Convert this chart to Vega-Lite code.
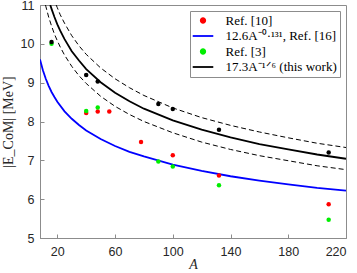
{
  "$schema": "https://vega.github.io/schema/vega-lite/v6.json",
  "width": 306,
  "height": 233,
  "autosize": {"type": "none"},
  "padding": {"left": 40, "top": 5, "right": 11, "bottom": 35},
  "config": {
    "view": {"stroke": "#8c8c8c", "strokeWidth": 1},
    "axis": {
      "grid": false,
      "domainColor": "#8c8c8c",
      "tickColor": "#8c8c8c",
      "labelFont": "Liberation Sans",
      "labelFontSize": 12.5,
      "labelColor": "#262626",
      "titleFont": "Liberation Serif",
      "titleFontWeight": "normal",
      "titleFontSize": 14,
      "titleColor": "#262626"
    }
  },
  "datasets": {
    "pts": [
      {"A": 16, "E": 10.05, "s": "this"},
      {"A": 40, "E": 9.2, "s": "this"},
      {"A": 48, "E": 9.03, "s": "this"},
      {"A": 90, "E": 8.45, "s": "this"},
      {"A": 100, "E": 8.32, "s": "this"},
      {"A": 132, "E": 7.79, "s": "this"},
      {"A": 208, "E": 7.2, "s": "this"},
      {"A": 40, "E": 8.22, "s": "Ref. [10]"},
      {"A": 48, "E": 8.26, "s": "Ref. [10]"},
      {"A": 56, "E": 8.26, "s": "Ref. [10]"},
      {"A": 78, "E": 7.47, "s": "Ref. [10]"},
      {"A": 100, "E": 7.13, "s": "Ref. [10]"},
      {"A": 132, "E": 6.61, "s": "Ref. [10]"},
      {"A": 208, "E": 5.87, "s": "Ref. [10]"},
      {"A": 16, "E": 10.0, "s": "Ref. [3]"},
      {"A": 40, "E": 8.27, "s": "Ref. [3]"},
      {"A": 48, "E": 8.36, "s": "Ref. [3]"},
      {"A": 90, "E": 6.97, "s": "Ref. [3]"},
      {"A": 100, "E": 6.84, "s": "Ref. [3]"},
      {"A": 132, "E": 6.36, "s": "Ref. [3]"},
      {"A": 208, "E": 5.47, "s": "Ref. [3]"}
    ],
    "solid": [
      {"A": 8, "E": 9.6, "s": "12.6A⁻⁰·¹³¹, Ref. [16]"},
      {"A": 10, "E": 9.32, "s": "12.6A⁻⁰·¹³¹, Ref. [16]"},
      {"A": 12, "E": 9.1, "s": "12.6A⁻⁰·¹³¹, Ref. [16]"},
      {"A": 14, "E": 8.92, "s": "12.6A⁻⁰·¹³¹, Ref. [16]"},
      {"A": 16, "E": 8.76, "s": "12.6A⁻⁰·¹³¹, Ref. [16]"},
      {"A": 18, "E": 8.63, "s": "12.6A⁻⁰·¹³¹, Ref. [16]"},
      {"A": 20, "E": 8.51, "s": "12.6A⁻⁰·¹³¹, Ref. [16]"},
      {"A": 25, "E": 8.26, "s": "12.6A⁻⁰·¹³¹, Ref. [16]"},
      {"A": 30, "E": 8.07, "s": "12.6A⁻⁰·¹³¹, Ref. [16]"},
      {"A": 35, "E": 7.91, "s": "12.6A⁻⁰·¹³¹, Ref. [16]"},
      {"A": 40, "E": 7.77, "s": "12.6A⁻⁰·¹³¹, Ref. [16]"},
      {"A": 50, "E": 7.55, "s": "12.6A⁻⁰·¹³¹, Ref. [16]"},
      {"A": 60, "E": 7.37, "s": "12.6A⁻⁰·¹³¹, Ref. [16]"},
      {"A": 70, "E": 7.22, "s": "12.6A⁻⁰·¹³¹, Ref. [16]"},
      {"A": 80, "E": 7.1, "s": "12.6A⁻⁰·¹³¹, Ref. [16]"},
      {"A": 100, "E": 6.89, "s": "12.6A⁻⁰·¹³¹, Ref. [16]"},
      {"A": 120, "E": 6.73, "s": "12.6A⁻⁰·¹³¹, Ref. [16]"},
      {"A": 140, "E": 6.59, "s": "12.6A⁻⁰·¹³¹, Ref. [16]"},
      {"A": 160, "E": 6.48, "s": "12.6A⁻⁰·¹³¹, Ref. [16]"},
      {"A": 180, "E": 6.38, "s": "12.6A⁻⁰·¹³¹, Ref. [16]"},
      {"A": 200, "E": 6.29, "s": "12.6A⁻⁰·¹³¹, Ref. [16]"},
      {"A": 220, "E": 6.22, "s": "12.6A⁻⁰·¹³¹, Ref. [16]"},
      {"A": 15.1, "E": 11.0, "s": "17.3A⁻¹ᐟ⁶ (this work)"},
      {"A": 16, "E": 10.9, "s": "17.3A⁻¹ᐟ⁶ (this work)"},
      {"A": 18, "E": 10.69, "s": "17.3A⁻¹ᐟ⁶ (this work)"},
      {"A": 20, "E": 10.5, "s": "17.3A⁻¹ᐟ⁶ (this work)"},
      {"A": 22, "E": 10.34, "s": "17.3A⁻¹ᐟ⁶ (this work)"},
      {"A": 25, "E": 10.12, "s": "17.3A⁻¹ᐟ⁶ (this work)"},
      {"A": 30, "E": 9.81, "s": "17.3A⁻¹ᐟ⁶ (this work)"},
      {"A": 35, "E": 9.57, "s": "17.3A⁻¹ᐟ⁶ (this work)"},
      {"A": 40, "E": 9.35, "s": "17.3A⁻¹ᐟ⁶ (this work)"},
      {"A": 50, "E": 9.01, "s": "17.3A⁻¹ᐟ⁶ (this work)"},
      {"A": 60, "E": 8.74, "s": "17.3A⁻¹ᐟ⁶ (this work)"},
      {"A": 70, "E": 8.52, "s": "17.3A⁻¹ᐟ⁶ (this work)"},
      {"A": 80, "E": 8.33, "s": "17.3A⁻¹ᐟ⁶ (this work)"},
      {"A": 100, "E": 8.03, "s": "17.3A⁻¹ᐟ⁶ (this work)"},
      {"A": 120, "E": 7.79, "s": "17.3A⁻¹ᐟ⁶ (this work)"},
      {"A": 140, "E": 7.59, "s": "17.3A⁻¹ᐟ⁶ (this work)"},
      {"A": 160, "E": 7.42, "s": "17.3A⁻¹ᐟ⁶ (this work)"},
      {"A": 180, "E": 7.28, "s": "17.3A⁻¹ᐟ⁶ (this work)"},
      {"A": 200, "E": 7.15, "s": "17.3A⁻¹ᐟ⁶ (this work)"},
      {"A": 220, "E": 7.04, "s": "17.3A⁻¹ᐟ⁶ (this work)"}
    ],
    "dashed": [
      {"A": 19.2, "E": 11.0, "s": "up"},
      {"A": 20, "E": 10.93, "s": "up"},
      {"A": 22, "E": 10.75, "s": "up"},
      {"A": 25, "E": 10.53, "s": "up"},
      {"A": 30, "E": 10.21, "s": "up"},
      {"A": 35, "E": 9.95, "s": "up"},
      {"A": 40, "E": 9.73, "s": "up"},
      {"A": 50, "E": 9.38, "s": "up"},
      {"A": 60, "E": 9.1, "s": "up"},
      {"A": 70, "E": 8.87, "s": "up"},
      {"A": 80, "E": 8.67, "s": "up"},
      {"A": 100, "E": 8.35, "s": "up"},
      {"A": 120, "E": 8.1, "s": "up"},
      {"A": 140, "E": 7.9, "s": "up"},
      {"A": 160, "E": 7.73, "s": "up"},
      {"A": 180, "E": 7.58, "s": "up"},
      {"A": 200, "E": 7.44, "s": "up"},
      {"A": 220, "E": 7.33, "s": "up"},
      {"A": 11.8, "E": 11.0, "s": "lo"},
      {"A": 12, "E": 10.97, "s": "lo"},
      {"A": 14, "E": 10.69, "s": "lo"},
      {"A": 16, "E": 10.46, "s": "lo"},
      {"A": 18, "E": 10.25, "s": "lo"},
      {"A": 20, "E": 10.08, "s": "lo"},
      {"A": 22, "E": 9.92, "s": "lo"},
      {"A": 25, "E": 9.71, "s": "lo"},
      {"A": 30, "E": 9.42, "s": "lo"},
      {"A": 35, "E": 9.18, "s": "lo"},
      {"A": 40, "E": 8.98, "s": "lo"},
      {"A": 50, "E": 8.65, "s": "lo"},
      {"A": 60, "E": 8.39, "s": "lo"},
      {"A": 70, "E": 8.18, "s": "lo"},
      {"A": 80, "E": 8.0, "s": "lo"},
      {"A": 100, "E": 7.71, "s": "lo"},
      {"A": 120, "E": 7.47, "s": "lo"},
      {"A": 140, "E": 7.28, "s": "lo"},
      {"A": 160, "E": 7.12, "s": "lo"},
      {"A": 180, "E": 6.99, "s": "lo"},
      {"A": 200, "E": 6.86, "s": "lo"},
      {"A": 220, "E": 6.76, "s": "lo"}
    ]
  },
  "encoding": {
    "x": {
      "field": "A", "type": "quantitative",
      "scale": {"domain": [8, 220], "nice": false, "zero": false},
      "axis": {"values": [20, 60, 100, 140, 180, 220], "title": "A", "titleFontStyle": "italic", "tickSize": -4, "labelPadding": 11, "titlePadding": 0}
    },
    "y": {
      "field": "E", "type": "quantitative",
      "scale": {"domain": [5, 11], "nice": false, "zero": false},
      "axis": {"values": [5, 6, 7, 8, 9, 10, 11], "title": "|E_CoM| [MeV]", "tickSize": -4, "labelPadding": 10, "titlePadding": 5}
    }
  },
  "layer": [
    {
      "data": {"name": "dashed"},
      "mark": {"type": "line", "color": "black", "strokeWidth": 1, "strokeDash": [5, 3], "clip": true},
      "encoding": {"detail": {"field": "s"}}
    },
    {
      "data": {"name": "solid"},
      "mark": {"type": "line", "strokeWidth": 1.8, "clip": true},
      "encoding": {
        "color": {
          "field": "s", "type": "nominal",
          "scale": {
            "domain": ["Ref. [10]", "12.6A⁻⁰·¹³¹, Ref. [16]", "Ref. [3]", "17.3A⁻¹ᐟ⁶ (this work)"],
            "range": ["#ff0000", "#0000ff", "#00ee00", "#000000"]
          },
          "legend": {
            "title": null,
            "orient": "top-right",
            "offset": 6,
            "padding": 3,
            "strokeColor": "#8c8c8c",
            "fillColor": "white",
            "labelFont": "Liberation Serif",
            "labelFontSize": 13,
            "labelColor": "black",
            "labelOffset": 19.5,
            "rowPadding": 1.5,
            "symbolSize": 20,
            "symbolStrokeWidth": 1.8,
            "encode": {
              "symbols": {
                "update": {
                  "stroke": {"scale": "color", "field": "value"},
                  "fill": {"scale": "color", "field": "value"},
                  "size": {"value": 20},
                  "x": {"value": 10}
                }
              }
            }
          }
        },
        "detail": {"field": "s"}
      }
    },
    {
      "data": {"name": "pts"},
      "transform": [{"filter": "datum.s != 'this'"}],
      "mark": {"type": "point", "filled": true, "size": 20, "opacity": 1},
      "encoding": {
        "color": {"field": "s", "type": "nominal"},
        "shape": {
          "field": "s", "type": "nominal",
          "scale": {
            "domain": ["Ref. [10]", "12.6A⁻⁰·¹³¹, Ref. [16]", "Ref. [3]", "17.3A⁻¹ᐟ⁶ (this work)"],
            "range": ["circle", "M-4.6,0H4.6", "circle", "M-4.6,0H4.6"]
          }
        }
      }
    },
    {
      "data": {"name": "pts"},
      "transform": [{"filter": "datum.s == 'this'"}],
      "mark": {"type": "point", "filled": true, "size": 20, "opacity": 1, "color": "black"}
    }
  ]
}
